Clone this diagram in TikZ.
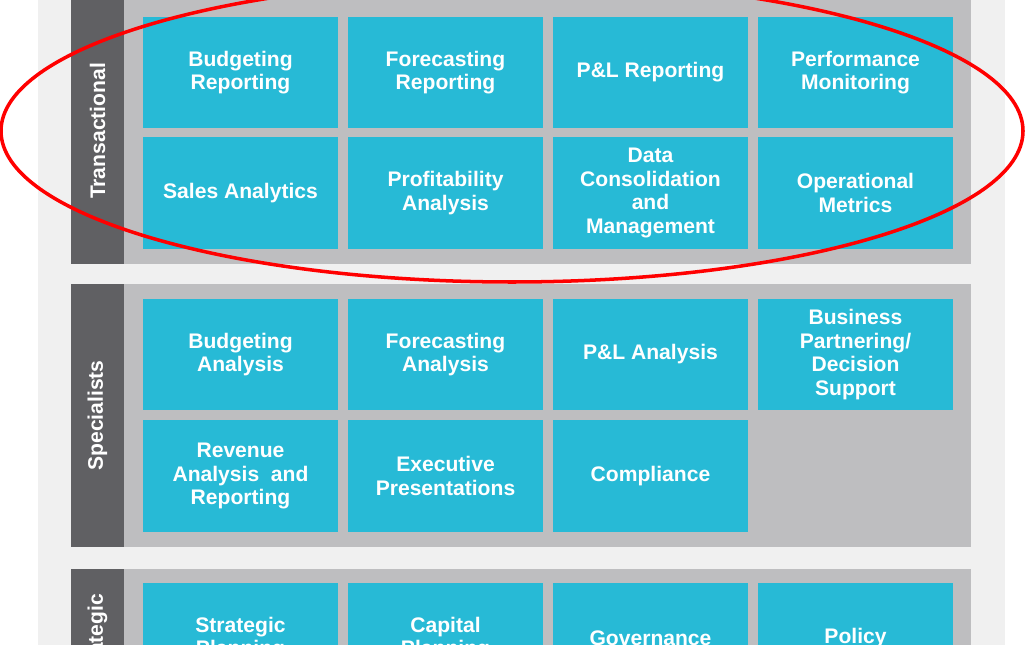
\documentclass[tikz,border=0pt]{standalone}
\usepackage{fontspec}
\setmainfont{Liberation Sans}
\definecolor{cellblue}{RGB}{39,186,214}
\definecolor{bandgray}{RGB}{190,190,192}
\definecolor{bardark}{RGB}{96,96,99}
\definecolor{pagegray}{RGB}{240,240,240}
\tikzset{
    cell/.style = {rectangle, fill=cellblue, minimum width=3.9cm, minimum height=2.23cm, align=center, text=white, font=\bfseries\fontsize{12}{13.4}\selectfont},
    bar/.style = {rectangle, fill=bardark, rotate=90, minimum height=1.06cm, text=white, font=\bfseries\fontsize{12}{13.4}\selectfont},
    band/.style = {fill=bandgray},
    ring/.style = {draw=red, line width=2pt}
}
\begin{document}
\begin{tikzpicture}[x=0.2mm, y=-0.2mm]
\useasboundingbox (0,0) rectangle (1026,645);
\clip (0,0) rectangle (1026,645);
\fill[pagegray] (38,0) rectangle (1005,645);

% bands
\fill[band] (124,-2) rectangle (971,264);
\fill[band] (124,284) rectangle (971,547);
\fill[band] (124,569) rectangle (971,709);
\node[bar, minimum width=5.32cm] (trans) at (97.5,131)   {Transactional};
\node[bar, minimum width=5.26cm] (spec)  at (97.5,415.5) {Specialists};
\node[bar, minimum width=2.80cm] (strat) at (97.5,639)   {Strategic};

% transactional
\node[cell] (budrep)  at (240.5,72.5) {Budgeting\\Reporting};
\node[cell] (forrep)  at (445.5,72.5) {Forecasting\\Reporting};
\node[cell] (plrep)   at (650.5,72.5) {P\&L Reporting};
\node[cell] (perfmon) at (855.5,72.5) {Performance\\Monitoring};
\node[cell] (sales)   at (240.5,193)  {Sales Analytics};
\node[cell] (profit)  at (445.5,193)  {Profitability\\Analysis};
\node[cell] (datacon) at (650.5,193)  {Data\\Consolidation\\and\\Management};
\node[cell] (opmet)   at (855.5,193)  {Operational\\Metrics};

% specialists
\node[cell] (budana)  at (240.5,354.5) {Budgeting\\Analysis};
\node[cell] (forana)  at (445.5,354.5) {Forecasting\\Analysis};
\node[cell] (plana)   at (650.5,354.5) {P\&L Analysis};
\node[cell] (bizpart) at (855.5,354.5) {Business\\Partnering/\\Decision\\Support};
\node[cell] (revana)  at (240.5,476)   {Revenue\\Analysis\ \ and\\Reporting};
\node[cell] (execpre) at (445.5,476)   {Executive\\Presentations};
\node[cell] (compl)   at (650.5,476)   {Compliance};

% strategic
\node[cell] (stratpl) at (240.5,638.5) {Strategic\\Planning};
\node[cell] (cappl)   at (445.5,638.5) {Capital\\Planning};
\node[cell] (gov)     at (650.5,638.5) {Governance};
\node[cell] (policy)  at (855.5,638.5) {Policy};

\draw[ring] (512,131) ellipse [x radius=511, y radius=151];
\end{tikzpicture}
\end{document}
